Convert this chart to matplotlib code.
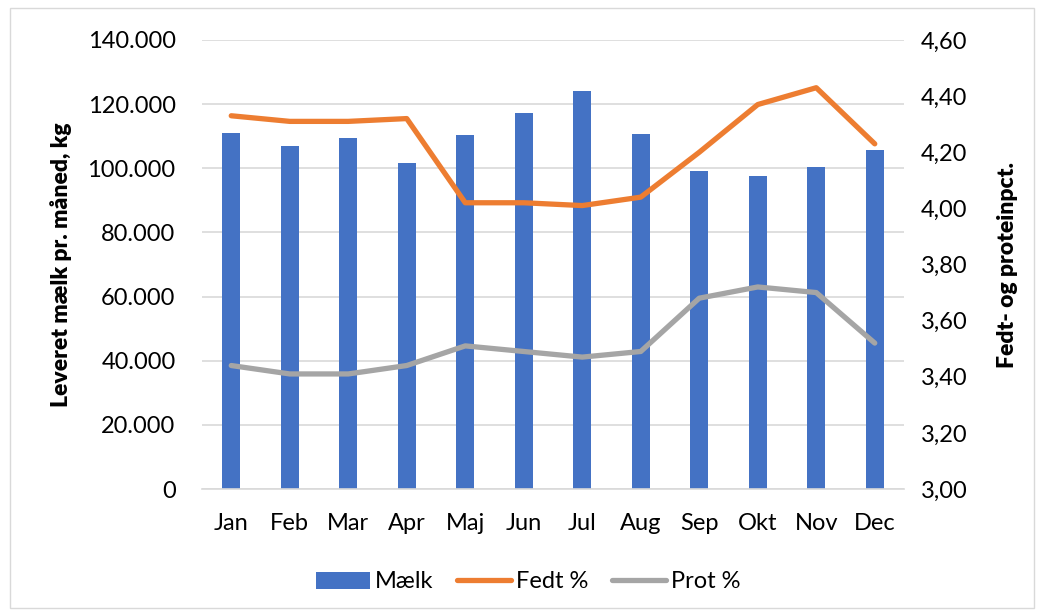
import matplotlib
matplotlib.use("Agg")
import matplotlib.pyplot as plt
from matplotlib.ticker import FuncFormatter
from matplotlib.patches import Rectangle

months = ["Jan", "Feb", "Mar", "Apr", "Maj", "Jun", "Jul", "Aug", "Sep", "Okt", "Nov", "Dec"]
maelk = [111000, 106800, 109300, 101600, 110300, 117200, 124000, 110600, 99300, 97700, 100400, 105700]
fedt = [4.33, 4.31, 4.31, 4.32, 4.02, 4.02, 4.01, 4.04, 4.20, 4.37, 4.43, 4.23]
prot = [3.44, 3.41, 3.41, 3.44, 3.51, 3.49, 3.47, 3.49, 3.68, 3.72, 3.70, 3.52]

plt.rcParams['font.family'] = ['Lato', 'DejaVu Sans']

fig = plt.figure(figsize=(10.42, 6.16), dpi=100)
ax = fig.add_axes([202/1042, 1-489/616, 702/1042, 449/616])
ax2 = ax.twinx()

x = list(range(len(months)))
ax.bar(x, maelk, width=0.31, color="#4472C4", label="Mælk", zorder=2)
ax2.plot(x, fedt, color="#ED7D31", lw=3.8, solid_capstyle="round", label="Fedt %", zorder=3)
ax2.plot(x, prot, color="#A5A5A5", lw=3.8, solid_capstyle="round", label="Prot %", zorder=3)

ax.set_xlim(-0.5, 11.5)
ax.set_ylim(0, 140000)
ax.set_yticks(range(0, 140001, 20000))
ax.yaxis.set_major_formatter(FuncFormatter(lambda v, p: "0" if v == 0 else f"{int(v):,}".replace(",", ".")))
ax2.set_ylim(3.0, 4.6)
ax2.set_yticks([3.0 + 0.2 * i for i in range(9)])
ax2.yaxis.set_major_formatter(FuncFormatter(lambda v, p: f"{v:.2f}".replace(".", ",")))
ax.set_xticks(x)
ax.set_xticklabels(months)

ax.grid(axis="y", color="#d9d9d9", lw=1.2, zorder=0)
ax.set_axisbelow(True)
for a in (ax, ax2):
    for s in a.spines.values():
        s.set_visible(False)
ax.spines["bottom"].set_visible(True)
ax.spines["bottom"].set_color("#d9d9d9")
ax.spines["bottom"].set_linewidth(1.2)

ax.tick_params(axis="both", length=0, labelsize=17, colors="black")
ax.tick_params(axis="y", pad=19)
ax.tick_params(axis="x", pad=17)
ax2.tick_params(axis="y", length=0, labelsize=17, pad=12)

ax.set_ylabel("Leveret mælk pr. måned, kg", fontsize=16.5, fontweight="heavy", labelpad=11)
ax2.set_ylabel("Fedt- og proteinpct.", fontsize=16.5, fontweight="heavy", labelpad=21)

h1, l1 = ax.get_legend_handles_labels()
h2, l2 = ax2.get_legend_handles_labels()
fig.legend(h1 + h2, l1 + l2, loc="center", bbox_to_anchor=(0.507, 1 - 582/616), ncol=3,
           frameon=False, fontsize=17, handlelength=2.3, handletextpad=0.2, columnspacing=1.0)

fig.patches.append(Rectangle((10/1042, 8/616), 1024/1042, 600/616, transform=fig.transFigure,
                             fill=False, edgecolor="#d9d9d9", lw=1))

fig.savefig("out.png", dpi=100)
